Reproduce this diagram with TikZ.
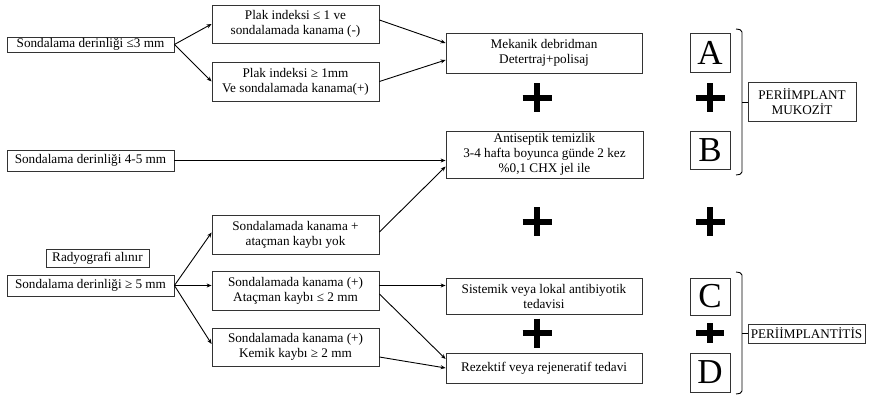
\documentclass[tikz,border=0pt]{standalone}
\usepackage{fontspec}
\setmainfont{Liberation Serif}
\usetikzlibrary{arrows.meta}
\begin{document}
\begin{tikzpicture}[x=1pt,y=-1pt,
  box/.style={draw=black!80,line width=0.8pt,inner sep=0pt,align=center,font=\fontsize{13.2}{15}\selectfont},
  letter/.style={draw=black!80,line width=0.8pt,inner sep=0pt,font=\fontsize{35}{35}\selectfont,minimum width=40pt},
  arr/.style={line width=0.9pt,-{Stealth[length=5pt,width=4pt]}},
  plusbar/.style={line width=5.5pt},
  brk/.style={line width=0.9pt}]
\useasboundingbox (0,0) rectangle (872,395);
% left column
\node[box,minimum width=167pt,minimum height=15pt] (b1) at (90.5,44.5) {Sondalama derinliği ≤3 mm};
\node[box,minimum width=167pt,minimum height=21pt] (b2) at (90.5,160.5) {Sondalama derinliği 4-5 mm};
\node[box,minimum width=103pt,minimum height=18pt] (rad) at (97.5,258) {Radyografi alınır};
\node[box,minimum width=167pt,minimum height=21pt] (b3) at (90.5,285.5) {Sondalama derinliği ≥ 5 mm};
% second column
\node[box,minimum width=167pt,minimum height=38pt] (p1) at (295.5,24) {Plak indeksi ≤ 1 ve\\sondalamada kanama (-)};
\node[box,minimum width=167pt,minimum height=39pt] (p2) at (295.5,81.5) {Plak indeksi ≥ 1mm\\Ve sondalamada kanama(+)};
\node[box,minimum width=167pt,minimum height=39pt] (k1) at (295.5,234.5) {Sondalamada kanama +\\ataçman kaybı yok};
\node[box,minimum width=167pt,minimum height=39pt] (k2) at (295.5,290.5) {Sondalamada kanama (+)\\Ataçman kaybı ≤ 2 mm};
\node[box,minimum width=167pt,minimum height=38pt] (k3) at (295.5,347) {Sondalamada kanama (+)\\Kemik kaybı ≥ 2 mm};
% third column
\node[box,minimum width=196pt,minimum height=40pt] (mek) at (544,53) {Mekanik debridman\\Detertraj+polisaj};
\node[box,minimum width=197pt,minimum height=47pt] (ant) at (544.5,154.5) {Antiseptik temizlik\\3-4 hafta boyunca günde 2 kez\\\%0,1 CHX jel ile};
\node[box,minimum width=196pt,minimum height=36pt] (sis) at (544,296) {Sistemik veya lokal antibiyotik\\tedavisi};
\node[box,minimum width=196pt,minimum height=30pt] (rez) at (544,368) {Rezektif veya rejeneratif tedavi};
% letters
\node[letter,minimum height=39pt] (A) at (710,52.5) {A};
\node[letter,minimum height=38pt] (B) at (710,150) {B};
\node[letter,minimum height=37pt] (C) at (710,296.5) {C};
\node[letter,minimum height=39pt] (D) at (710,372.5) {D};
% right labels
\node[box,minimum width=108pt,minimum height=39pt] (muk) at (802,101.5) {PERİİMPLANT\\MUKOZİT};
\node[box,minimum width=117pt,minimum height=19pt] (pit) at (806.5,333.5) {PERİİMPLANTİTİS};
% plus signs
\foreach \cx/\cy in {537/98,710/98,537/222,710/222,537/333}{
  \draw[plusbar] (\cx-14.5,\cy) -- (\cx+14.5,\cy);
  \draw[plusbar] (\cx,\cy-14.5) -- (\cx,\cy+14.5);
}
\draw[plusbar] (710-14,333) -- (710+14,333);
\draw[plusbar] (710,333-10) -- (710,333+10);
% brackets
\coordinate (m1) at (742,102);
\coordinate (m2) at (742,333);
\draw[brk,rounded corners=2pt] (736,29) -- (742,30) -- (742,174) -- (736,175);
\draw[brk] (m1) -- (muk.west |- m1);
\draw[brk,rounded corners=2pt] (736,272) -- (742,273) -- (742,393) -- (736,394);
\draw[brk] (m2) -- (pit.west |- m2);
% arrows
\draw[arr] (b1.east) -- (p1.west);
\draw[arr] (b1.east) -- (p2.west);
\draw[arr] ([yshift=4pt]p1.east) -- ([yshift=10pt]mek.west);
\draw[arr] (p2.east) -- ([yshift=-7pt]mek.west);
\draw[arr] (b2.east) -- (b2.east -| ant.west);
\draw[arr] ([yshift=2.5pt]k1.east) -- ([yshift=-12pt]ant.west);
\draw[arr] (b3.east) -- ([yshift=2pt]k1.west);
\draw[arr] (b3.east) -- ([yshift=5pt]k2.west);
\draw[arr] (b3.east) -- ([yshift=3pt]k3.west);
\draw[arr] ([yshift=5pt]k2.east) -- ([yshift=5pt]k2.east -| sis.west);
\draw[arr] ([yshift=-3.5pt]k2.east) -- ([yshift=9pt]rez.west);
\draw[arr] ([yshift=-10pt]k3.east) -- (rez.west);
\end{tikzpicture}
\end{document}
